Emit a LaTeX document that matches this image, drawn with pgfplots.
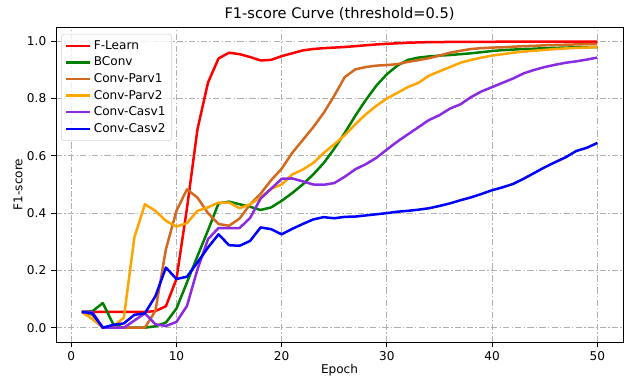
\documentclass[border=0pt]{standalone}
\usepackage{pgfplots}
\pgfplotsset{compat=1.18}
\usepackage{pgfplotstable}
\usepackage{fontspec}
\setmainfont{DejaVu Sans}
\usetikzlibrary{calc}

\definecolor{chocolate}{RGB}{210,105,30}
\definecolor{mplorange}{RGB}{255,165,0}
\definecolor{blueviolet}{RGB}{138,43,226}
\definecolor{mplgreen}{RGB}{0,128,0}
\definecolor{mplred}{RGB}{255,0,0}
\definecolor{mplblue}{RGB}{0,0,255}
\definecolor{gridgray}{RGB}{176,176,176}

% epoch, F-Learn, BConv, Conv-Parv1, Conv-Parv2, Conv-Casv1, Conv-Casv2
\pgfplotstableread{
e  fl     bc     p1     p2     c1     c2
1  0.055  0.055  0.055  0.055  0.055  0.055
2  0.055  0.057  0.045  0.030  0.055  0.050
3  0.055  0.086  0.000  0.000  0.000  0.000
4  0.055  0.012  0.000  0.005  0.000  0.010
5  0.055  0.000  0.000  0.035  0.000  0.015
6  0.055  0.000  0.000  0.315  0.025  0.045
7  0.055  0.000  0.000  0.431  0.050  0.050
8  0.058  0.005  0.059  0.408  0.012  0.110
9  0.075  0.018  0.274  0.373  0.006  0.210
10 0.170  0.067  0.408  0.353  0.020  0.170
11 0.417  0.158  0.483  0.365  0.076  0.178
12 0.693  0.250  0.454  0.408  0.204  0.228
13 0.856  0.340  0.400  0.420  0.309  0.280
14 0.940  0.434  0.362  0.437  0.348  0.326
15 0.960  0.440  0.356  0.437  0.348  0.288
16 0.955  0.431  0.381  0.417  0.348  0.286
17 0.945  0.422  0.430  0.431  0.383  0.303
18 0.933  0.411  0.468  0.455  0.451  0.350
19 0.935  0.420  0.515  0.485  0.485  0.344
20 0.948  0.443  0.555  0.500  0.520  0.326
21 0.958  0.470  0.610  0.535  0.521  0.345
22 0.968  0.500  0.655  0.552  0.511  0.362
23 0.973  0.535  0.700  0.575  0.500  0.378
24 0.976  0.575  0.750  0.610  0.499  0.386
25 0.978  0.625  0.810  0.640  0.505  0.382
26 0.980  0.680  0.875  0.672  0.527  0.387
27 0.983  0.740  0.902  0.710  0.553  0.388
28 0.986  0.795  0.910  0.745  0.571  0.392
29 0.989  0.845  0.915  0.775  0.593  0.396
30 0.991  0.885  0.917  0.800  0.622  0.400
31 0.993  0.915  0.920  0.820  0.650  0.405
32 0.995  0.935  0.928  0.840  0.675  0.408
33 0.996  0.943  0.934  0.855  0.700  0.412
34 0.997  0.947  0.941  0.880  0.725  0.417
35 0.997  0.950  0.950  0.895  0.742  0.425
36 0.998  0.952  0.960  0.910  0.765  0.434
37 0.998  0.955  0.967  0.925  0.780  0.445
38 0.998  0.958  0.973  0.935  0.805  0.455
39 0.998  0.962  0.976  0.943  0.825  0.467
40 0.998  0.966  0.978  0.950  0.840  0.480
41 0.999  0.969  0.979  0.955  0.855  0.490
42 0.999  0.971  0.981  0.960  0.870  0.502
43 0.999  0.973  0.983  0.964  0.888  0.520
44 0.999  0.974  0.984  0.967  0.900  0.540
45 0.999  0.976  0.986  0.970  0.910  0.560
46 0.999  0.977  0.987  0.973  0.918  0.578
47 0.999  0.978  0.988  0.975  0.925  0.595
48 0.999  0.979  0.989  0.977  0.930  0.617
49 0.999  0.980  0.990  0.978  0.936  0.628
50 0.999  0.980  0.990  0.980  0.943  0.645
}\data

\begin{document}
\begin{tikzpicture}
\begin{axis}[
  name=main,
  scale only axis, width=408.2pt, height=226.8pt,
  xmin=-1.45, xmax=52.45, ymin=-0.05, ymax=1.05,
  xtick={0,10,20,30,40,50},
  ytick={0,0.2,0.4,0.6,0.8,1.0},
  yticklabel style={/pgf/number format/.cd, fixed, fixed zerofill, precision=1},
  /pgf/number format/assume math mode=true,
  tick align=outside, tick pos=left, major tick length=3.5pt,
  tick style={black, line width=0.6pt},
  axis line style={black, line width=0.6pt},
  grid=major,
  grid style={gridgray, dash pattern=on 4.5pt off 1.6pt on 1pt off 1.6pt, line width=0.6pt},
  xlabel={Epoch}, ylabel={F1-score},
  xlabel style={font=\fontsize{8.7}{10.5}\selectfont, at={(0.5,-0.089)}, anchor=center},
  ylabel style={font=\fontsize{8.7}{10.5}\selectfont, at={(-0.067,0.5)}, anchor=center},
  tick label style={font=\fontsize{8.7}{10.5}\selectfont},
  legend cell align=left,
  legend style={at={(0.009,0.978)}, anchor=north west, draw=gray!35, rounded corners=2pt,
    fill=white, fill opacity=0.8, text opacity=1, draw opacity=1,
    font=\fontsize{8.7}{10.5}\selectfont, row sep=0pt, inner sep=2.5pt,
    nodes={inner sep=2pt}},
  every axis plot/.append style={line width=1.8pt, line join=round},
]
\addplot[mplred] table[x=e, y=fl] {\data};
\addlegendentry{F-Learn}
\addplot[mplgreen] table[x=e, y=bc] {\data};
\addlegendentry{BConv}
\addplot[chocolate] table[x=e, y=p1] {\data};
\addlegendentry{Conv-Parv1}
\addplot[mplorange] table[x=e, y=p2] {\data};
\addlegendentry{Conv-Parv2}
\addplot[blueviolet] table[x=e, y=c1] {\data};
\addlegendentry{Conv-Casv1}
\addplot[mplblue] table[x=e, y=c2] {\data};
\addlegendentry{Conv-Casv2}
\end{axis}
\node[font=\fontsize{10.5}{12.5}\selectfont, anchor=center] at ($(main.north)+(0,9.2pt)$) {F1-score Curve (threshold=0.5)};
\pgfresetboundingbox
\path ($(main.south west)+(-40.3pt,-25.2pt)$) rectangle ($(main.north east)+(1.4pt,19.4pt)$);
\end{tikzpicture}
\end{document}
